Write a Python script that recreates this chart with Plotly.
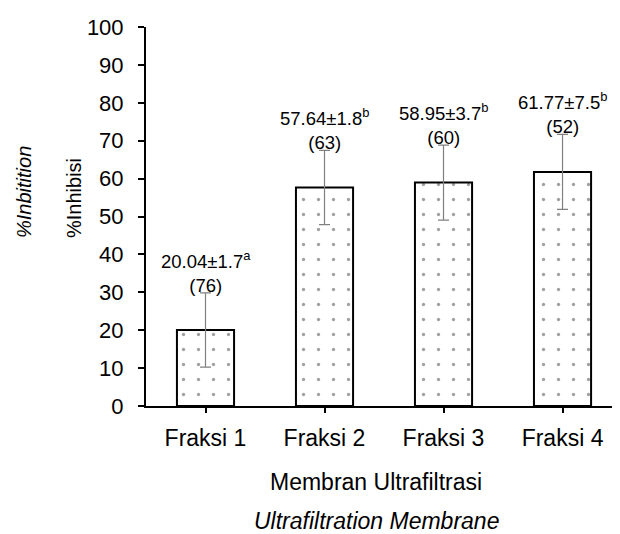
import plotly.graph_objects as go

categories = ["Fraksi 1", "Fraksi 2", "Fraksi 3", "Fraksi 4"]
values = [20.04, 57.64, 58.95, 61.77]
errors = [9.8, 9.8, 9.9, 9.9]
sd_text = ["1.7", "1.8", "3.7", "7.5"]
letters = ["a", "b", "b", "b"]
counts = ["76", "63", "60", "52"]
y_ticks = [0, 10, 20, 30, 40, 50, 60, 70, 80, 90, 100]

FONT = "Liberation Sans, Arial, sans-serif"
PW = 474  # plot width px
PH = 379  # plot height px

fig = go.Figure()
fig.add_trace(go.Bar(
    x=categories,
    y=values,
    marker=dict(
        color="white",
        line=dict(color="black", width=2),
        pattern=dict(shape=".", size=15, solidity=0.04, fgcolor="#444444", bgcolor="white"),
    ),
    error_y=dict(type="data", array=errors, visible=True, color="#808080", thickness=1.2, width=5.5),
    showlegend=False,
))

for c, v, e, sd, l, n in zip(categories, values, errors, sd_text, letters, counts):
    fig.add_annotation(
        x=c, y=v + e, xref="x", yref="y",
        text=f"{v:.2f}±{sd}<sup>{l}</sup><br>({n})",
        showarrow=False, yanchor="bottom", xanchor="center", yshift=-5,
        font=dict(family=FONT, size=18.5, color="black"),
    )

fig.add_annotation(
    x=-72 / PW, y=(406 - 240) / PH, xref="paper", yref="paper",
    text="%Inhibisi", textangle=-90, showarrow=False,
    xanchor="center", yanchor="bottom",
    font=dict(family=FONT, size=20, color="black"),
)
fig.add_annotation(
    x=-122 / PW, y=(406 - 240) / PH, xref="paper", yref="paper",
    text="<i>%Inbitition</i>", textangle=-90, showarrow=False,
    xanchor="center", yanchor="bottom",
    font=dict(family=FONT, size=20, color="black"),
)
fig.add_annotation(
    x=(376 - 146) / PW, y=-(482 - 406) / PH, xref="paper", yref="paper",
    text="Membran Ultrafiltrasi", showarrow=False,
    xanchor="center", yanchor="middle",
    font=dict(family=FONT, size=23, color="black"),
)
fig.add_annotation(
    x=(376 - 146) / PW, y=-(521 - 406) / PH, xref="paper", yref="paper",
    text="<i>Ultrafiltration Membrane</i>", showarrow=False,
    xanchor="center", yanchor="middle",
    font=dict(family=FONT, size=23, color="black"),
)

# page body has an 8px margin; figure is sized to fill the remaining window
fig.update_layout(
    width=612, height=526,
    margin=dict(l=138, r=0, t=19, b=128),
    plot_bgcolor="white", paper_bgcolor="white",
    bargap=0.52,
    font=dict(family=FONT, color="black"),
)
fig.update_xaxes(
    range=[-0.5, 3.483],
    showline=True, linecolor="black", linewidth=2,
    ticks="outside", ticklen=5, tickcolor="black", tickwidth=1.5,
    tickfont=dict(family=FONT, size=23, color="black"),
    ticklabelstandoff=5,
    showgrid=False, zeroline=False,
)
fig.update_yaxes(
    range=[0, 100], tickvals=y_ticks,
    showline=True, linecolor="black", linewidth=2,
    ticks="outside", ticklen=6, tickcolor="black", tickwidth=1.5,
    tickfont=dict(family=FONT, size=22, color="black"),
    ticklabelstandoff=10,
    showgrid=False, zeroline=False,
)

fig.write_html("out.html")
